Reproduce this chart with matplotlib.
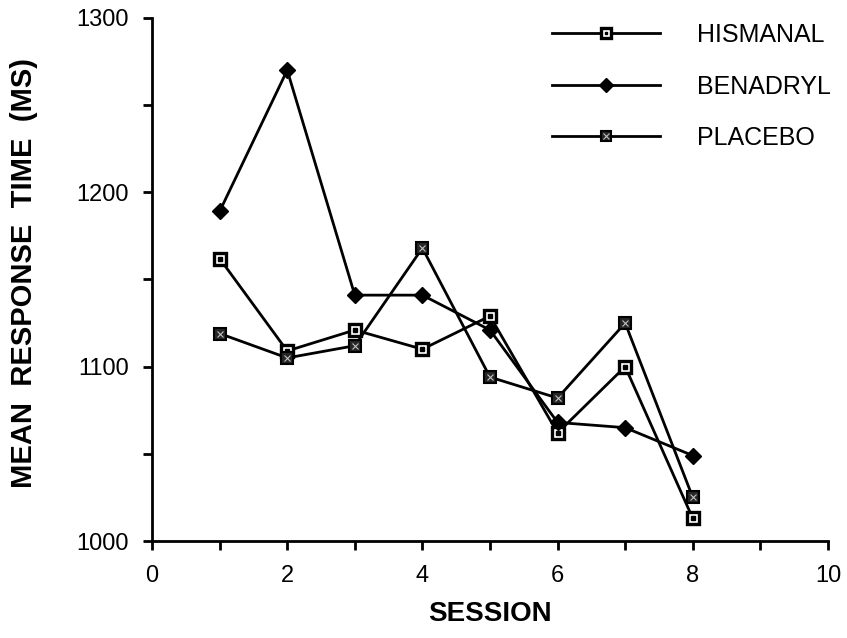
import matplotlib
matplotlib.use("Agg")
import matplotlib.pyplot as plt
from matplotlib.legend_handler import HandlerTuple

plt.rcParams['font.family'] = ['Liberation Sans', 'DejaVu Sans']

# sessions and mean response times (ms)
sessions = [1, 2, 3, 4, 5, 6, 7, 8]
hismanal = [1162, 1109, 1121, 1110, 1129, 1062, 1100, 1013]
benadryl = [1189, 1270, 1141, 1141, 1121, 1068, 1065, 1049]
placebo = [1119, 1105, 1112, 1168, 1094, 1082, 1125, 1025]

x_ticks = [0, 2, 4, 6, 8, 10]
y_ticks = [1000, 1100, 1200, 1300]


fig = plt.figure(figsize=(8.47, 6.38), dpi=100)
ax = fig.add_axes([0.1795, 0.152, 0.798, 0.820])

lw = 2.0
h1, = ax.plot(sessions, hismanal, color='black', lw=lw, marker='s', ms=8.5,
              mfc='white', mec='black', mew=2.4)
h1b, = ax.plot(sessions, hismanal, ls='none', marker='s', ms=2.5, color='black')
h2, = ax.plot(sessions, benadryl, color='black', lw=lw, marker='D', ms=8,
              mfc='black', mec='black')
h3, = ax.plot(sessions, placebo, color='black', lw=lw, marker='s', ms=8,
              mfc='0.15', mec='black', mew=1.5)
h3b, = ax.plot(sessions, placebo, ls='none', marker='x', ms=5, mew=0.8, color='0.75')

leg = ax.legend([(h1, h1b), h2, (h3, h3b)], ['HISMANAL', 'BENADRYL', 'PLACEBO'],
                handler_map={tuple: HandlerTuple(ndivide=1, pad=0)},
                numpoints=1, markerscale=0.85,
                loc='upper left', bbox_to_anchor=(0.592, 0.99), frameon=False,
                fontsize=18, handlelength=4.3, handletextpad=1.5,
                labelspacing=1.1, borderaxespad=0, borderpad=0)

ax.set_xlim(0, 10)
ax.set_ylim(1000, 1300)
ax.set_xticks(range(0, 11))
ax.set_xticklabels([str(v) if v in x_ticks else '' for v in range(0, 11)])
ax.set_yticks(range(1000, 1301, 50))
ax.set_yticklabels([str(v) if v in y_ticks else '' for v in range(1000, 1301, 50)])
ax.tick_params(direction='out', length=6.5, width=2, labelsize=17)
ax.tick_params(axis='x', pad=11)
ax.tick_params(axis='y', pad=10)

for s in ['top', 'right']:
    ax.spines[s].set_visible(False)
for s in ['left', 'bottom']:
    ax.spines[s].set_linewidth(2)

ax.set_xlabel('SESSION', fontsize=20, fontweight='bold', labelpad=10)
ax.set_ylabel('MEAN  RESPONSE  TIME  (MS)', fontsize=21, fontweight='bold', labelpad=28)
ax.yaxis.label.set_y(0.513)

fig.savefig('out.png', dpi=100)
